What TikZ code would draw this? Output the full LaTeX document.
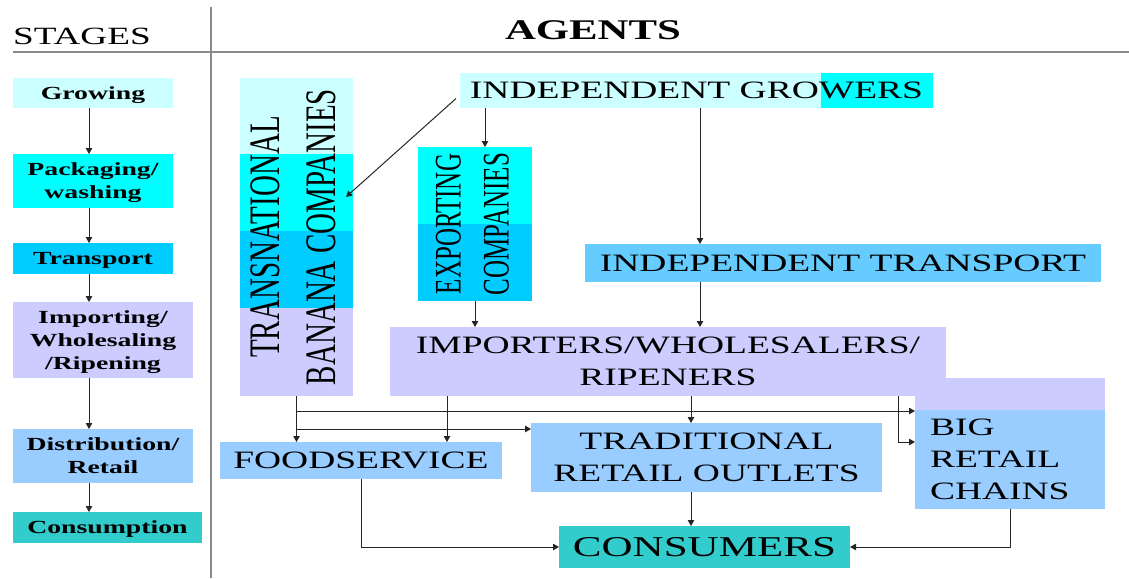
\documentclass[tikz,border=0pt]{standalone}
\usepackage{graphicx}
\usepackage{fontspec}
\setmainfont{Liberation Serif}[FakeStretch=1.5]
\newfontfamily\narrowserif{Liberation Serif}
\usetikzlibrary{arrows.meta,calc,backgrounds}

\definecolor{paleaqua}{HTML}{CCFFFF}
\definecolor{aquafill}{HTML}{00FFFF}
\definecolor{skyfill}{HTML}{00CCFF}
\definecolor{lavfill}{HTML}{CCCCFF}
\definecolor{palebluefill}{HTML}{99CCFF}
\definecolor{midbluefill}{HTML}{66CCFF}
\definecolor{tealfill}{HTML}{33CCCC}
\definecolor{rulegray}{HTML}{8A8A8A}
\definecolor{linkgray}{HTML}{262626}

% two-line label set sideways, reading bottom to top
\newcommand{\vertlabel}[3]{\rotatebox{90}{\scalebox{1}[1.5]{\narrowserif\fontsize{#1}{#2}\selectfont\begin{tabular}{@{}c@{}}#3\end{tabular}}}}

\begin{document}
\begin{tikzpicture}[x=1pt,y=-1pt,
  box/.style={inner sep=0pt, outer sep=0pt, text depth=0pt, align=center},
  stagebox/.style={box, font=\bfseries\fontsize{18.5}{23}\selectfont},
  agentbox/.style={box, font=\fontsize{25}{32}\selectfont},
  arr/.style={draw=linkgray, line width=1pt, -{Triangle[length=6pt,width=6.5pt]}},
  divider/.style={draw=rulegray, line width=2.5pt}]
\useasboundingbox (0,0) rectangle (1129,578);

% header rules
\draw[divider] (13,52) -- (1129,52);
\draw[divider] (211,7) -- (211,578);

% headings
\node[anchor=base west, inner sep=0pt, font=\fontsize{24.8}{30}\selectfont] (stages) at (13,45) {STAGES};
\node[anchor=base, inner sep=0pt, font=\bfseries\fontsize{28.5}{34}\selectfont] (agents) at (593,40) {AGENTS};

% stages column
\node[stagebox, fill=paleaqua, minimum width=160pt, minimum height=30pt] (grow) at (93,93) {Growing};
\node[stagebox, fill=aquafill, minimum width=160pt, minimum height=54pt] (pack) at (93,181) {Packaging/\\washing};
\node[stagebox, fill=skyfill, minimum width=160pt, minimum height=31pt] (trans) at (93,258.5) {Transport};
\node[stagebox, fill=lavfill, minimum width=180pt, minimum height=76pt] (impst) at (103,340) {Importing/\\Wholesaling\\/Ripening};
\node[stagebox, fill=palebluefill, minimum width=180pt, minimum height=54pt] (dist) at (103,456) {Distribution/\\Retail};
\node[stagebox, fill=tealfill, minimum width=189pt, minimum height=31pt] (consst) at (107.5,527.5) {Consumption};

\coordinate (sx) at (89,0);
\foreach \a/\b in {grow/pack, pack/trans, trans/impst, impst/dist, dist/consst}
  \draw[arr] (\a.south -| sx) -- (\b.north -| sx);

% agents
\node[agentbox, minimum width=473pt, minimum height=35pt] (ig) at (696.5,90.5) {INDEPENDENT GROWERS};
\node[box, minimum width=113pt, minimum height=318pt] (tnc) at (296.5,237) {\vertlabel{29}{37}{TRANSNATIONAL\\BANANA COMPANIES}};
\node[box, minimum width=114pt, minimum height=154pt] (exp) at (475,224) {\vertlabel{25}{32}{EXPORTING\\COMPANIES}};
\node[agentbox, fill=midbluefill, minimum width=516pt, minimum height=38pt] (it) at (843,263) {INDEPENDENT TRANSPORT};
\node[agentbox, fill=lavfill, minimum width=556pt, minimum height=69pt] (imp) at (668,361.5) {IMPORTERS/WHOLESALERS/\\RIPENERS};
\node[agentbox, fill=palebluefill, text width=160pt, inner xsep=15pt, align=left, text depth=64pt, minimum height=99pt] (brc) at (1010,459.5) {BIG\\RETAIL\\CHAINS};
\node[agentbox, fill=palebluefill, minimum width=282pt, minimum height=37pt] (fs) at (361,460.5) {FOODSERVICE};
\node[agentbox, fill=palebluefill, minimum width=351pt, minimum height=69pt] (tro) at (706.5,457.5) {TRADITIONAL\\RETAIL OUTLETS};
\node[box, fill=tealfill, font=\fontsize{28.7}{34}\selectfont, minimum width=291pt, minimum height=42pt] (cons) at (704.5,547) {CONSUMERS};

% colour bands behind the multi-coloured boxes
\begin{scope}[on background layer]
  \fill[paleaqua] (ig.north west) rectangle (ig.south east);
  \fill[aquafill] ($(ig.north west)+(361,0)$) rectangle (ig.south east);
  \fill[paleaqua] (tnc.north west) rectangle ($(tnc.north east)+(0,76)$);
  \fill[aquafill] ($(tnc.north west)+(0,76)$) rectangle ($(tnc.north east)+(0,153)$);
  \fill[skyfill] ($(tnc.north west)+(0,153)$) rectangle ($(tnc.north east)+(0,230)$);
  \fill[lavfill] ($(tnc.north west)+(0,230)$) rectangle (tnc.south east);
  \fill[aquafill] (exp.north west) rectangle ($(exp.north east)+(0,77)$);
  \fill[skyfill] ($(exp.north west)+(0,77)$) rectangle (exp.south east);
  \fill[lavfill] ($(brc.north west)+(0,-32)$) rectangle (brc.north east);
\end{scope}

% flows between agents
\coordinate (xe) at (485,0);
\coordinate (xt) at (700,0);
\coordinate (xr) at (691,0);
\coordinate (xf) at (447,0);
\coordinate (xb) at (898,0);
\coordinate (ya) at (0,411);
\coordinate (yb) at (0,429);
\coordinate (yc) at (0,442);

\draw[arr] ($(ig.west)+(-4,8)$) -- ($(tnc.east)+(-7,-40)$);
\draw[arr] (ig.south -| xe) -- (exp.north -| xe);
\draw[arr] (ig.south -| xt) -- (it.north -| xt);
\draw[arr] (exp.south) -- (exp.south |- imp.north);
\draw[arr] (it.south -| xt) -- (imp.north -| xt);
\draw[arr] (imp.south -| xr) -- (tro.north -| xr);
\draw[arr] (imp.south -| xf) -- (fs.north -| xf);
\draw[arr] (imp.south -| xb) -- (xb |- yc) -- (brc.west |- yc);
\draw[arr] (tnc.south) -- (tnc.south |- fs.north);
\draw[arr] (tnc.south |- ya) -- (brc.west |- ya);
\draw[arr] (tnc.south |- yb) -- (tro.west |- yb);
\draw[arr] (tro.south -| xr) -- (cons.north -| xr);
\draw[arr] (fs.south) |- (cons.west);
\draw[arr] (brc.south) |- (cons.east);
\end{tikzpicture}
\end{document}
